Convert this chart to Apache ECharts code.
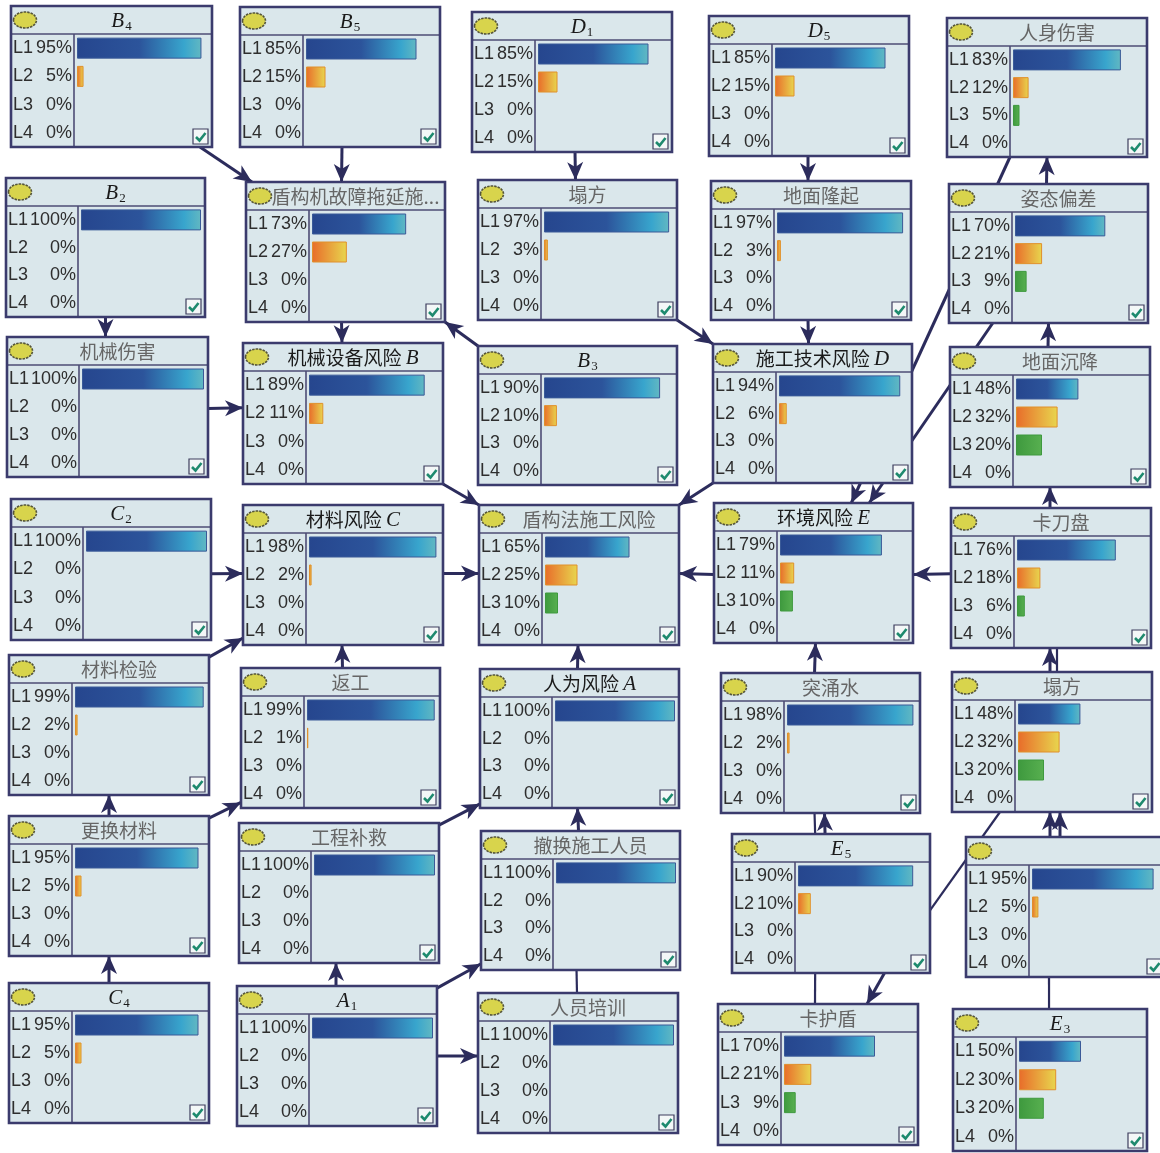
<!DOCTYPE html>
<html><head><meta charset="utf-8">
<script src="https://cdn.jsdelivr.net/npm/echarts@6/dist/echarts.min.js"></script>
<style>html,body{margin:0;padding:0;background:#fff}#c{width:1160px;height:1153px}</style>
</head><body><div id="c"></div>
<script>
// ---------- data ----------
const levelLabels = ['L1', 'L2', 'L3', 'L4'];
const nodeTitles = [
  '{i|B}{s|4}', '{i|B}{s|2}', '机械伤害', '{i|C}{s|2}', '材料检验', '更换材料', '{i|C}{s|4}',
  '{i|B}{s|5}', '盾构机故障拖延施...', '机械设备风险 {i|B}', '材料风险 {i|C}', '返工', '工程补救', '{i|A}{s|1}',
  '{i|D}{s|1}', '塌方', '{i|B}{s|3}', '盾构法施工风险', '人为风险 {i|A}', '撤换施工人员', '人员培训',
  '{i|D}{s|5}', '地面隆起', '施工技术风险 {i|D}', '环境风险 {i|E}', '突涌水', '{i|E}{s|5}', '卡护盾',
  '人身伤害', '姿态偏差', '地面沉降', '卡刀盘', '塌方', '', '{i|E}{s|3}'
];
const L1 = [95,100,100,100,99,95,95, 85,73,89,98,99,100,100, 85,97,90,65,100,100,100, 85,97,94,79,98,90,70, 83,70,48,76,48,95,50];
const L2 = [5,0,0,0,2,5,5, 15,27,11,2,1,0,0, 15,3,10,25,0,0,0, 15,3,6,11,2,10,21, 12,21,32,18,32,5,30];
const L3 = [0,0,0,0,0,0,0, 0,0,0,0,0,0,0, 0,0,0,10,0,0,0, 0,0,0,10,0,0,9, 5,9,20,6,20,0,20];
const L4 = [0,0,0,0,0,0,0, 0,0,0,0,0,0,0, 0,0,0,0,0,0,0, 0,0,0,0,0,0,0, 0,0,0,0,0,0,0];
// links: [from, to, arrow(1)/plain(0)]
const links = [
  [0,8,1],[7,8,1],[1,2,1],[2,9,1],[8,9,1],[16,8,1],[9,17,1],[15,23,1],[14,15,1],[21,22,1],
  [22,23,1],[23,17,1],[10,17,1],[3,10,1],[4,10,1],[11,10,1],[5,4,1],[5,11,1],[12,18,1],[6,5,1],
  [13,12,1],[13,19,1],[13,20,1],[19,18,1],[20,19,0],[18,17,1],[24,17,1],[31,24,1],[25,24,1],[26,25,1],
  [26,25,0],[26,27,1],[26,27,0],[32,26,0],[33,32,1],[33,32,1],[34,33,0],[32,31,1],[32,31,0],[31,30,1],
  [30,29,1],[29,28,1],[28,24,1],[29,24,1]
];

// ---------- layout (positions only) ----------
const boxLayout = [
  [11,6,201,141],[6,178,199,139],[7,337,201,140],[11,499,200,141],[9,655,200,140],[9,816,200,140],[9,983,200,140],
  [240,7,200,140],[246,182,199,140],[243,343,200,141],[243,505,200,140],[241,668,199,140],[239,823,200,140],[237,986,200,140],
  [472,12,200,140],[478,180,199,140],[478,346,199,139],[479,505,200,140],[480,669,199,139],[481,831,199,139],[478,993,200,140],
  [709,16,200,140],[711,181,200,139],[713,344,199,139],[714,503,199,140],[721,673,199,140],[732,834,198,139],[718,1004,200,141],
  [947,18,200,139],[949,184,199,139],[950,347,200,140],[951,508,200,140],[952,672,200,140],[966,837,200,140],[953,1009,194,142]
];
// anchor fractions on each box for each link: [fx0, fy0, fx1, fy1]
const linkAnchors = [
  [0.94,1,0.03,0],[0.51,1,0.48,0],[0.5,1,0.49,0],[1,0.51,0,0.46],[0.48,1,0.495,0],[0,0,1,1],[1,1,0,0],[1,1,0,0],[0.515,1,0.49,0],[0.495,1,0.485,0],
  [0.485,1,0.48,0],[0,1,1,0],[1,0.49,0,0.49],[1,0.53,0,0.49],[1,0.015,0,0.95],[0.51,0,0.495,1],[0.5,0,0.5,1],[1,0.015,0,0.96],[1,0.015,0,0.97],[0.5,0,0.5,1],
  [0.495,0,0.485,1],[1,0.015,0,0.955],[1,0.5,0,0.45],[0.49,0,0.49,1],[0.495,0,0.48,1],[0.49,0,0.495,1],[0,0.51,1,0.49],[0,0.47,1,0.51],[0.47,0,0.51,1],[0.47,0,0.52,1],
  [0.42,0,0.47,1],[0.77,1,0.745,0],[0.42,1,0.485,0],[0.24,1,1,0.55],[0.42,0,0.49,1],[0.47,0,0.54,1],[0.495,0,0.415,1],[0.49,0,0.495,1],[0.525,0,0.53,1],[0.495,0,0.5,1],
  [0.49,0,0.5,1],[0.49,0,0.5,1],[0.315,1,0.69,0],[0.22,1,0.78,0]
];

// ---------- styles ----------
const BG = '#dae7eb', BORDER = '#3b3b6d', INNER = '#4d4d75', LINK = '#2c2c5c';
const grad = (stops) => ({type:'linear', x:0, y:0, x2:1, y2:0, colorStops: stops.map(s => ({offset:s[0], color:s[1]}))});
const barFill = [
  grad([[0,'#26468e'],[0.5,'#2c549b'],[0.86,'#38a5cd'],[1,'#62b8c2']]),
  grad([[0,'#e86c2a'],[1,'#e8d64e']]),
  grad([[0,'#3e993e'],[1,'#58b050']]),
  grad([[0,'#888'],[1,'#aaa']])
];
const barBorder = ['#3a5a98', '#e0902c', '#3e993e', '#777'];
const levelVals = [L1, L2, L3, L4];

const grids = [], xAxes = [], yAxes = [], series = [], graphics = [];

boxLayout.forEach((b, i) => {
  const [x, y, w, h] = b;
  const vals = levelVals.map(a => a[i]);
  const col = vals[0] === 100 ? 72 : 63;
  const gl = x + col + 3, gr = x + w - 4;
  grids.push({left: gl, top: y + 28, width: gr - gl, height: h - 28, show: false});
  xAxes.push({gridIndex: i, type: 'value', min: 0, max: 100, show: false});
  yAxes.push({
    gridIndex: i, type: 'category', data: levelLabels, inverse: true, z: 6,
    axisLine: {show: false}, axisTick: {show: false}, splitLine: {show: false},
    axisLabel: {
      interval: 0, margin: 5,
      formatter: (v, k) => '{a|' + v + '}{b|' + vals[k] + '%}',
      rich: {
        a: {width: 19, align: 'left', fontSize: 18, fontFamily: 'Liberation Sans', color: '#2e2e2e'},
        b: {width: col - 23, align: 'right', fontSize: 18, fontFamily: 'Liberation Sans', color: '#2e2e2e'}
      }
    }
  });
  series.push({
    type: 'bar', xAxisIndex: i, yAxisIndex: i, barWidth: 21, silent: true, z: 6,
    data: vals.map((v, k) => ({value: v, itemStyle: {color: barFill[k], borderColor: barBorder[k], borderWidth: v > 0 ? 1 : 0}}))
  });
  // box decoration
  graphics.push({type: 'rect', z: 2, shape: {x, y, width: w, height: h}, style: {fill: BG}, silent: true});
  graphics.push({type: 'line', z: 10, shape: {x1: x, y1: y + 28, x2: x + w, y2: y + 28}, style: {stroke: INNER, lineWidth: 1.6}, silent: true});
  graphics.push({type: 'line', z: 10, shape: {x1: x + col, y1: y + 28, x2: x + col, y2: y + h}, style: {stroke: INNER, lineWidth: 1.6}, silent: true});
  graphics.push({type: 'rect', z: 11, shape: {x, y, width: w, height: h}, style: {fill: null, stroke: BORDER, lineWidth: 2.6}, silent: true});
  graphics.push({type: 'ellipse', z: 11, shape: {cx: x + 14, cy: y + 14, rx: 11.5, ry: 8}, style: {fill: '#d8d44c', stroke: '#55553a', lineWidth: 1.6, lineDash: [2.5, 1]}, silent: true});
  const t = nodeTitles[i];
  if (t) {
    const dark = t.indexOf('{i|') >= 0;
    graphics.push({
      type: 'text', z: 11, x: x + w / 2 + 10, y: y + 15, silent: true,
      style: {
        text: t, font: '19px "Noto Sans CJK SC"', fill: dark ? '#1a1a1a' : '#666',
        align: 'center', verticalAlign: 'middle', textAlign: 'center', textVerticalAlign: 'middle',
        rich: {
          i: {fontFamily: 'Liberation Serif', fontStyle: 'italic', fontSize: 21, lineHeight: 24, color: '#111'},
          s: {fontFamily: 'Liberation Serif', fontSize: 13, lineHeight: 12, padding: [12, 0, 0, 1], color: '#111'}
        }
      }
    });
  }
  // checkbox
  const cx = x + w - 19, cy = y + h - 18;
  graphics.push({type: 'rect', z: 12, shape: {x: cx, y: cy, width: 15, height: 15}, style: {fill: '#f3f7f7', stroke: '#3e3e5e', lineWidth: 1.2}, silent: true});
  graphics.push({type: 'polyline', z: 13, shape: {points: [[cx + 3, cy + 8], [cx + 6.5, cy + 11.5], [cx + 12.5, cy + 4]]}, style: {stroke: '#1e8a6e', lineWidth: 2.6, fill: null}, silent: true});
});

// links
links.forEach((lk, j) => {
  const [f, t, arrow] = lk;
  const a = linkAnchors[j];
  const bf = boxLayout[f], bt = boxLayout[t];
  const x0 = bf[0] + a[0] * bf[2], y0 = bf[1] + a[1] * bf[3];
  const x1 = bt[0] + a[2] * bt[2], y1 = bt[1] + a[3] * bt[3];
  graphics.push({type: 'line', z: 1, shape: {x1: x0, y1: y0, x2: x1, y2: y1}, style: {stroke: LINK, lineWidth: arrow ? 3 : 2.2}, silent: true});
  if (arrow) {
    const len = Math.hypot(x1 - x0, y1 - y0) || 1;
    const dx = (x1 - x0) / len, dy = (y1 - y0) / len;
    const nx = -dy, ny = dx, L = 18, hw = 8;
    graphics.push({type: 'polygon', z: 14, silent: true,
      shape: {points: [[x1, y1], [x1 - dx * L + nx * hw, y1 - dy * L + ny * hw], [x1 - dx * L * 0.72, y1 - dy * L * 0.72], [x1 - dx * L - nx * hw, y1 - dy * L - ny * hw]]},
      style: {fill: LINK}});
  }
});

const chart = echarts.init(document.getElementById('c'), null, {renderer: 'canvas'});
chart.setOption({
  backgroundColor: '#ffffff',
  animation: false,
  grid: grids, xAxis: xAxes, yAxis: yAxes, series: series,
  graphic: {elements: graphics}
});
</script>
</body></html>
